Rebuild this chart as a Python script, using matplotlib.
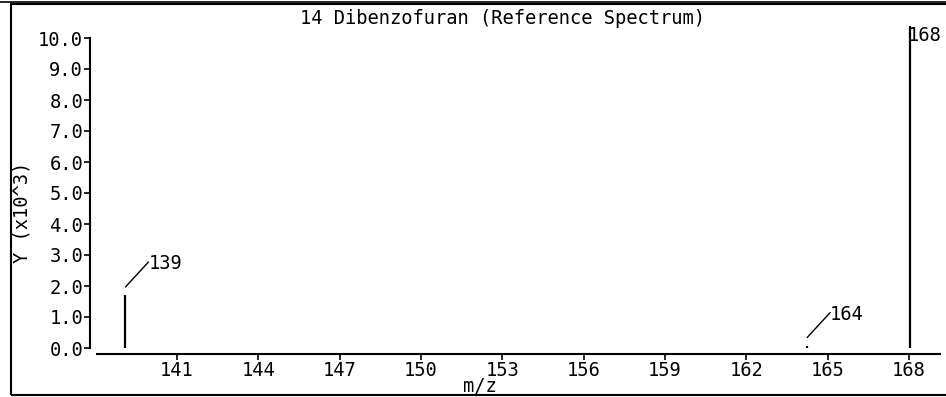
import matplotlib
matplotlib.use('Agg')
import matplotlib.pyplot as plt
from matplotlib.patches import Rectangle
from matplotlib.lines import Line2D
from matplotlib.transforms import offset_copy

title = "14 Dibenzofuran (Reference Spectrum)"
mz = [139.1, 164.25, 168.05]
intensity = [1.71, 0.08, 10.4]   # x10^3
peak_labels = ["139", "164", "168"]
xticks = [141, 144, 147, 150, 153, 156, 159, 162, 165, 168]
yticks = [0, 1, 2, 3, 4, 5, 6, 7, 8, 9, 10]

W, H = 946, 397
plt.rcParams['font.family'] = ['DejaVu Sans Mono']
plt.rcParams['font.size'] = 13.5

fig = plt.figure(figsize=(W / 100, H / 100), dpi=100)
ax = fig.add_axes([97 / W, 1 - 348 / H, (940 - 97) / W, (348 - 38) / H])

ax.vlines(mz, 0, intensity, color='black', lw=1.6, clip_on=False)

# leader lines start a few pixels above the peak top
above = offset_copy(ax.transData, fig=fig, x=0, y=8, units='dots')

for x, y, lab in zip(mz, intensity, peak_labels):
    if lab == "168":
        ax.annotate(lab, xy=(x, y), xytext=(-2, -10), textcoords='offset pixels',
                    ha='left', va='center', annotation_clip=False)
    else:
        ax.annotate("", xy=(x, y), xycoords=above, xytext=(23, 25),
                    textcoords='offset pixels', annotation_clip=False,
                    arrowprops=dict(arrowstyle='-', lw=1, color='black',
                                    shrinkA=0, shrinkB=0))
        ax.annotate(lab, xy=(x, y), xytext=(23, 31), textcoords='offset pixels',
                    ha='left', va='center', annotation_clip=False)

ax.set_xlim(138.05, 169.15)
ax.set_ylim(0, 10)
ax.set_xticks(xticks)
ax.set_xticklabels([str(t) for t in xticks])
ax.set_yticks(yticks)
ax.set_yticklabels(["%.1f" % t for t in yticks])

for s in ['top', 'right']:
    ax.spines[s].set_visible(False)
ax.spines['left'].set_position(('outward', 5))
ax.spines['bottom'].set_position(('outward', 4))
ax.spines['left'].set_linewidth(1.5)
ax.spines['bottom'].set_linewidth(1.5)
ax.tick_params(direction='out', length=4, width=1.2, pad=1)

fig.text(502 / W, 1 - 18 / H, title, ha='center', va='center')
fig.text(480 / W, 1 - 386 / H, "m/z", ha='center', va='center')
fig.text(22 / W, 1 - 212 / H, "Y (x10^3)", ha='center', va='center', rotation=90)

# outer frame
fig.patches.append(Rectangle((11 / W, 2 / H), 1.0, 1 - 6 / H, transform=fig.transFigure,
                             fill=False, lw=1.5, edgecolor='black'))
fig.lines.append(Line2D([0, 1], [1 - 2 / H, 1 - 2 / H], transform=fig.transFigure,
                        color='black', lw=1.2))

fig.savefig('out.png', dpi=100)
